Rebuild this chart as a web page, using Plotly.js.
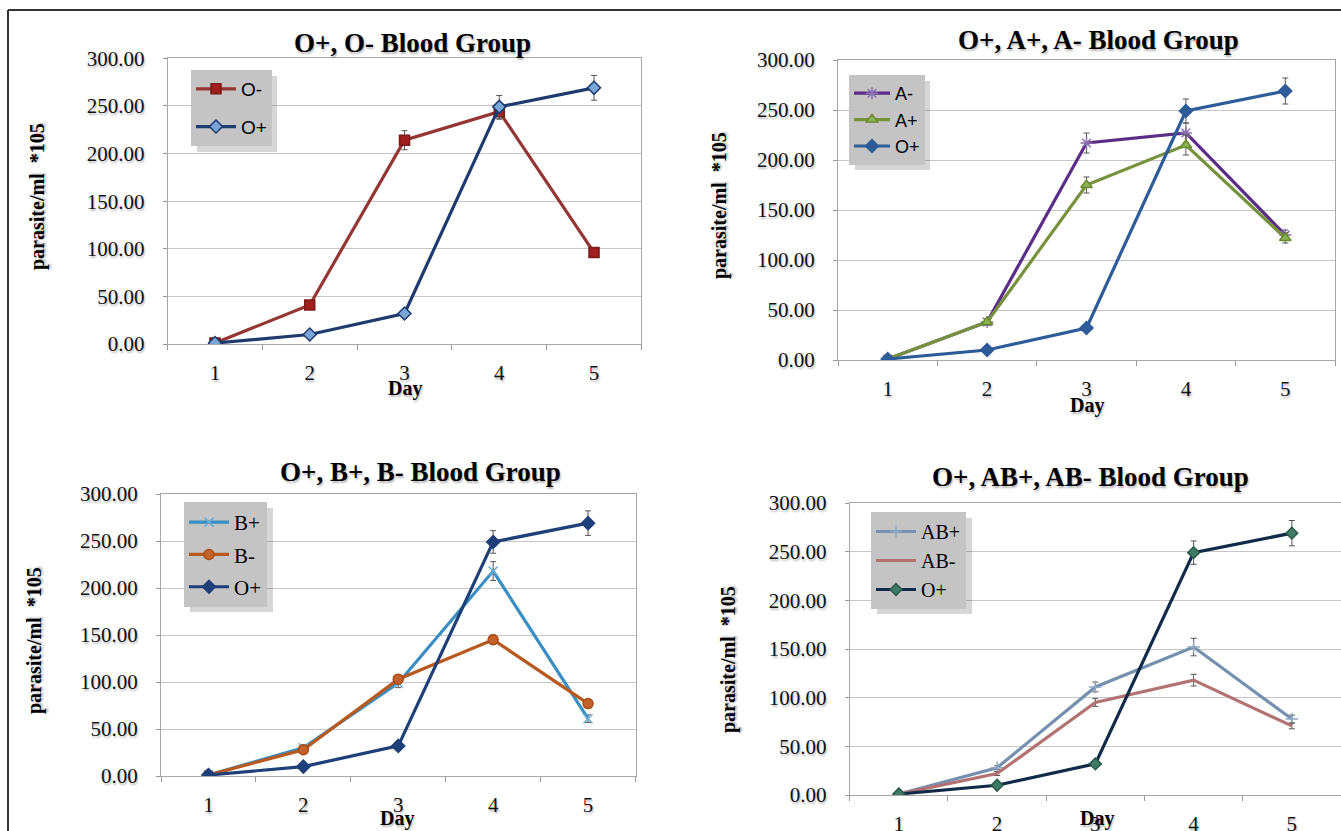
<!DOCTYPE html>
<html>
<head>
<meta charset="utf-8">
<script src="https://cdn.plot.ly/plotly-3.0.1.min.js"></script>
<style>
html,body{margin:0;padding:0;background:#fff;}
#chart{width:1341px;height:831px;}
</style>
</head>
<body>
<div id="chart"></div>
<script>
// ---- data ----
const days = [1, 2, 3, 4, 5];
const dayLabels = ["1", "2", "3", "4", "5"];
const yTicks = [0, 50, 100, 150, 200, 250, 300];

const oPos    = [1, 10, 32, 249, 269];
const oPosErr = [1, 2, 3, 12, 13];

const oNeg    = [1, 41, 214, 244, 96];
const oNegErr = [1, 3, 10, 8, 4];

const aNeg    = [1, 38, 217, 227, 125];
const aNegErr = [1, 3, 10, 10, 5];
const aPos    = [1, 38, 175, 215, 122];
const aPosErr = [1, 3, 8, 10, 5];

const bPos    = [1, 30, 99, 218, 61];
const bPosErr = [1, 3, 5, 10, 4];
const bNeg    = [1, 28, 103, 145, 77];
const bNegErr = [1, 2, 4, 5, 4];

const abPos    = [1, 28, 111, 152, 78];
const abPosErr = [1, 2, 5, 9, 4];
const abNeg    = [1, 22, 95, 118, 71];
const abNegErr = [1, 2, 4, 6, 3];

const panelTitles = ["O+, O- Blood Group", "O+, A+, A- Blood Group", "O+, B+, B- Blood Group", "O+, AB+, AB- Blood Group"];
const yTitle = "parasite/ml  *105";
const xTitle = "Day";

// ---- layout helpers ----
const W = 1341, H = 831;
const px = v => v / W;
const py = v => 1 - v / H;
const SERIF = "Liberation Serif, Times New Roman, serif";
const SANS = "Liberation Sans, Arial, sans-serif";
const SHADOW = "1px 2px 2px rgba(0,0,0,0.28)";
const boundaries = days.map(d => d - 0.5).concat([days[days.length - 1] + 0.5]);

function tr(name, y, err, axis, legend, group, color, sym, mcolor, mline, msize) {
  const t = {
    type: "scatter", mode: sym ? "lines+markers" : "lines",
    x: days, y: y, name: name,
    xaxis: "x" + axis, yaxis: "y" + axis,
    legend: legend, legendgroup: group,
    line: {color: color, width: 3.2},
    error_y: {type: "data", array: err, visible: true, color: "#555", thickness: 1, width: 3}
  };
  if (sym) t.marker = {symbol: sym, size: msize || 9, color: mcolor || color, line: {color: mline || color, width: 1.5}};
  return t;
}

const data = [
  tr("O-", oNeg, oNegErr, "", "legend", "g1", "#943634", "square", "#a02020", "#7a1a1a", 10),
  tr("O+", oPos, oPosErr, "", "legend", "g2", "#1f3a6e", "diamond", "#7aa6d8", "#1f3a6e", 10),

  tr("A-", aNeg, aNegErr, "2", "legend2", "g3", "#5b2d86", "asterisk-open", "#8a70b0", "#8a70b0", 10),
  tr("A+", aPos, aPosErr, "2", "legend2", "g4", "#76923c", "triangle-up", "#8db255", "#6a8a30", 10),
  tr("O+", oPos, oPosErr, "2", "legend2", "g5", "#2e5c99", "diamond", "#2e5c99", "#2e5c99", 10),

  tr("B+", bPos, bPosErr, "3", "legend3", "g6", "#3b8ec2", "x-thin-open", "#6aaed8", "#6aaed8", 9),
  tr("B-", bNeg, bNegErr, "3", "legend3", "g7", "#b8591f", "circle", "#c4622a", "#a84d18", 10),
  tr("O+", oPos, oPosErr, "3", "legend3", "g8", "#1f3f78", "diamond", "#1f3f78", "#1f3f78", 10),

  tr("AB+", abPos, abPosErr, "4", "legend4", "g9", "#7690b0", "cross-thin-open", "#90a8c4", "#90a8c4", 9),
  tr("AB-", abNeg, abNegErr, "4", "legend4", "g10", "#b27272", null),
  tr("O+", oPos, oPosErr, "4", "legend4", "g11", "#102a48", "diamond", "#3f7a66", "#2a5a4a", 9)
];

function xa(l, r, anchor) {
  return {
    domain: [px(l), px(r)], type: "linear", range: [0.5, 5.5],
    tickmode: "array", tickvals: days, ticktext: dayLabels,
    ticks: "outside", ticklen: 10, tickcolor: "rgba(0,0,0,0)",
    minor: {tickmode: "array", tickvals: boundaries, ticks: "outside", ticklen: 5, tickcolor: "#999", showgrid: false},
    showline: true, linecolor: "#a6a6a6", linewidth: 1,
    mirror: true, showgrid: false, zeroline: false, anchor: anchor,
    tickfont: {family: SERIF, size: 21, color: "#111", shadow: SHADOW}, fixedrange: true
  };
}
function ya(b, t, anchor) {
  return {
    domain: [py(b), py(t)], range: [0, 300], tickvals: yTicks, tickformat: ".2f",
    ticks: "outside", ticklen: 4, tickcolor: "#999", showline: true, linecolor: "#a6a6a6", linewidth: 1,
    mirror: true, gridcolor: "#c6c6c6", gridwidth: 1, zeroline: false, ticklabelstandoff: 14,
    tickfont: {family: SERIF, size: 21, color: "#111", shadow: SHADOW}, anchor: anchor, fixedrange: true
  };
}
function leg(l, t, font, gap, iw) {
  return {
    x: px(l), y: py(t), xanchor: "left", yanchor: "top",
    bgcolor: "#c4c4c4", borderwidth: 0, traceorder: "grouped", tracegroupgap: gap,
    font: font, itemwidth: iw
  };
}
function ann(text, x, y, size, angle) {
  return {
    text: text, xref: "paper", yref: "paper", x: px(x), y: py(y),
    xanchor: "center", yanchor: "middle", showarrow: false, textangle: angle || 0,
    font: {family: SERIF, size: size, color: "#000", weight: "bold", shadow: SHADOW}
  };
}
function legShadow(l, t, r, b) {
  return {type: "rect", xref: "paper", yref: "paper", layer: "above",
    x0: px(l + 6), x1: px(r + 6), y0: py(b + 6), y1: py(t + 6),
    fillcolor: "rgba(90,90,90,0.25)", line: {width: 0}};
}

const layout = {
  width: W, height: H, margin: {l: 0, r: 0, t: 0, b: 0},
  paper_bgcolor: "#ffffff", plot_bgcolor: "#ffffff", showlegend: true,
  xaxis:  xa(167.6, 641.4, "y"),  yaxis:  ya(344, 58.3, "x"),
  xaxis2: xa(838, 1335, "y2"),    yaxis2: ya(360, 60, "x2"),
  xaxis3: xa(161, 635.5, "y3"),   yaxis3: ya(776, 494, "x3"),
  xaxis4: xa(849.7, 1341, "y4"),  yaxis4: ya(795, 503, "x4"),
  legend:  leg(191, 70, {family: SANS, size: 19, color: "#000"}, 10, 40),
  legend2: leg(849, 75, {family: SANS, size: 18, color: "#000"}, 0, 36),
  legend3: leg(184, 502, {family: SERIF, size: 21, color: "#000"}, 2, 40),
  legend4: leg(871, 512, {family: SERIF, size: 20, color: "#000"}, 0, 40),
  annotations: [
    ann(panelTitles[0], 412, 43, 27), ann(panelTitles[1], 1098, 40, 27),
    ann(panelTitles[2], 420, 472, 27), ann(panelTitles[3], 1090, 477, 27),
    ann(yTitle, 38, 197, 20, -90), ann(yTitle, 719, 206, 20, -90),
    ann(yTitle, 34, 641, 20, -90), ann(yTitle, 728, 660, 20, -90),
    ann(xTitle, 405, 388, 20), ann(xTitle, 1087, 405, 20),
    ann(xTitle, 397, 818, 20), ann(xTitle, 1097, 818, 20)
  ],
  shapes: [
    {type: "line", xref: "paper", yref: "paper", x0: px(8), x1: 1, y0: py(10), y1: py(10), line: {color: "#333", width: 2}},
    {type: "line", xref: "paper", yref: "paper", x0: px(8), x1: px(8), y0: py(10), y1: 0, line: {color: "#333", width: 2}},
    legShadow(191, 70, 271, 146),
    legShadow(849, 75, 924, 164),
    legShadow(184, 502, 267, 606),
    legShadow(871, 512, 966, 608)
  ]
};

Plotly.newPlot("chart", data, layout, {displayModeBar: false, staticPlot: true});
</script>
</body>
</html>
